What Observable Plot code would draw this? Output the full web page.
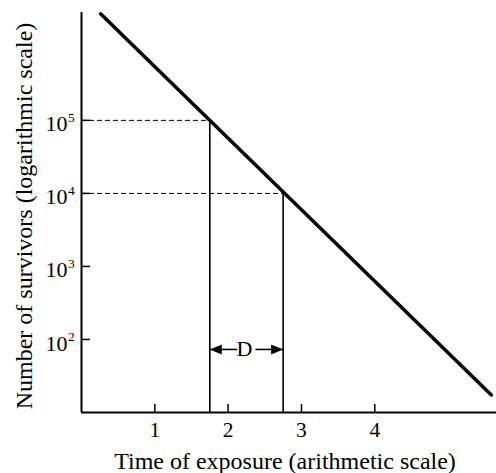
<!DOCTYPE html>
<html>
<head>
<meta charset="utf-8">
<script src="https://cdn.jsdelivr.net/npm/d3@7"></script>
<script src="https://cdn.jsdelivr.net/npm/@observablehq/plot@0.6"></script>
<style>
  html, body { margin: 0; padding: 0; background: white; }
</style>
</head>
<body>
<div id="chart"></div>
<script>
// Data
const xTicks = [1, 2, 3, 4];
const yTicks = [1e2, 1e3, 1e4, 1e5];
const yBaseLabel = "10";
const yExponents = ["2", "3", "4", "5"];
const lineTime = [0.26, 5.59];
const lineSurvivors = [2.88e6, 17.4];
const markTime = [1.75, 2.75];
const markSurvivors = [1e5, 1e4];
const dLevel = 73;
const dLabel = "D";
const xTitle = "Time of exposure (arithmetic scale)";
const yTitle = "Number of survivors (logarithmic scale)";

const lineData = lineTime.map((t, i) => ({t, n: lineSurvivors[i]}));
const markData = markTime.map((t, i) => ({t, n: markSurvivors[i]}));
const xMin = 0, xMax = 5.66, yMin = 10, yMax = 3e6;

const chart = Plot.plot({
  width: 496,
  height: 473,
  marginLeft: 81,
  marginRight: 0,
  marginTop: 12,
  marginBottom: 61,
  x: {domain: [xMin, xMax]},
  y: {type: "log", domain: [yMin, yMax]},
  style: {fontFamily: "'Liberation Serif', 'Times New Roman', serif", color: "black", background: "white"},
  marks: [
    // inward ticks
    Plot.axisX(xTicks, {tickSize: -8, strokeWidth: 1.5, tickFormat: () => "", label: null}),
    Plot.axisY(yTicks, {tickSize: -9, strokeWidth: 1.5, tickFormat: () => "", label: null}),
    // x tick labels
    Plot.text(xTicks, {x: d => d, y: yMin, text: d => String(d), dy: 17.5, fontSize: 21.5}),
    // y tick labels 10^n
    Plot.text(yTicks, {x: xMin, y: d => d, text: () => yBaseLabel, textAnchor: "end", dx: -14, dy: 4, fontSize: 22}),
    Plot.text(yTicks, {x: xMin, y: d => d, text: (d, i) => yExponents[i], textAnchor: "start", dx: -13.5, dy: -2.5, fontSize: 13.5}),
    // dashed guides
    Plot.ruleY(markData, {y: "n", x1: xMin, x2: "t", strokeWidth: 1, strokeDasharray: "5,3"}),
    // vertical lines
    Plot.ruleX(markData, {x: "t", y1: yMin, y2: "n", strokeWidth: 1.6}),
    // D arrow shafts
    Plot.ruleY([dLevel], {y: d => d, x1: markTime[0], x2: 2.13, strokeWidth: 1.6}),
    Plot.ruleY([dLevel], {y: d => d, x1: 2.38, x2: markTime[1], strokeWidth: 1.6}),
    // arrowheads
    Plot.vector([markTime[0]], {x: d => d, y: dLevel, rotate: -90, length: 12, r: 5, shape: "spike", anchor: "end", fill: "black", stroke: "none"}),
    Plot.vector([markTime[1]], {x: d => d, y: dLevel, rotate: 90, length: 12, r: 5, shape: "spike", anchor: "end", fill: "black", stroke: "none"}),
    Plot.text([dLabel], {x: (markTime[0] + markTime[1]) / 2, y: dLevel, text: d => d, fontSize: 22, dx: -2}),
    // survival line
    Plot.line(lineData, {x: "t", y: "n", strokeWidth: 3.5, stroke: "black"}),
    // axis lines
    Plot.ruleX([xMin], {strokeWidth: 2}),
    Plot.ruleY([yMin], {strokeWidth: 2}),
    // titles
    Plot.text([xTitle], {frameAnchor: "bottom", textAnchor: "middle", lineAnchor: "middle", text: d => d, fontSize: 24, dx: -4, dy: 48.7}),
    Plot.text([yTitle], {frameAnchor: "left", textAnchor: "middle", lineAnchor: "middle", text: d => d, fontSize: 24, rotate: -90, dx: -57.6, dy: 3.5})
  ]
});
document.getElementById("chart").appendChild(chart);
</script>
</body>
</html>
